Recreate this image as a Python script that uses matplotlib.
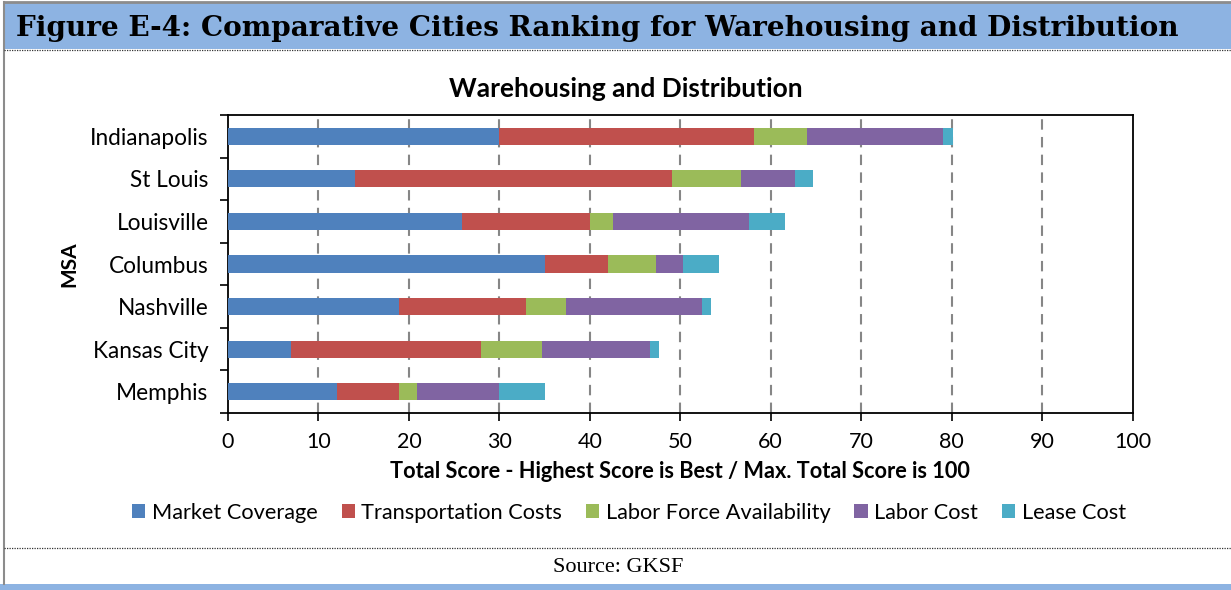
"""Comparative cities ranking for warehousing and distribution (stacked bars)."""

import matplotlib.pyplot as plt
from matplotlib.lines import Line2D
from matplotlib.patches import Patch, Rectangle

cities = ["Indianapolis", "St Louis", "Louisville", "Columbus",
          "Nashville", "Kansas City", "Memphis"]
market_coverage = [30.0, 14.0, 25.9, 35.1, 18.9, 7.0, 12.0]
transportation_costs = [28.1, 35.1, 14.1, 6.9, 14.0, 21.0, 6.9]
labor_force = [5.9, 7.6, 2.6, 5.3, 4.5, 6.7, 2.0]
labor_cost = [15.0, 6.0, 15.0, 3.0, 15.0, 12.0, 9.1]
lease_cost = [1.1, 2.0, 4.0, 4.0, 1.0, 1.0, 5.0]

series_names = ["Market Coverage", "Transportation Costs", "Labor Force Availability",
                "Labor Cost", "Lease Cost"]
series_colors = ["#4F81BD", "#C0504D", "#9BBB59", "#8064A2", "#4BACC6"]
x_ticks = [0, 10, 20, 30, 40, 50, 60, 70, 80, 90, 100]

W, H = 1231, 590
BAND = "#8DB3E2"
SANS = ["Lato", "DejaVu Sans"]


def fx(px):
    return px / W


def fy(py):
    return 1 - py / H


fig = plt.figure(figsize=(W / 100, H / 100), dpi=100)

# header band, frame and footer
fig.patches.append(Rectangle((fx(4), fy(49)), 1 - fx(4), fy(3) - fy(49),
                             transform=fig.transFigure, facecolor=BAND, edgecolor="none"))
fig.patches.append(Rectangle((0, 0), 1, fy(584), transform=fig.transFigure,
                             facecolor=BAND, edgecolor="none"))
fig.lines.append(Line2D([fx(4), 1], [fy(2), fy(2)], transform=fig.transFigure,
                        color="#8C8C8C", lw=2))
fig.lines.append(Line2D([fx(4), fx(4)], [fy(2), fy(584)], transform=fig.transFigure,
                        color="#8C8C8C", lw=1.5))
for y in (50, 548):
    fig.lines.append(Line2D([fx(4), 1], [fy(y), fy(y)], transform=fig.transFigure,
                            color="#333333", lw=0.9, linestyle=(0, (1, 1))))

fig.text(fx(597), fy(28), "Figure E-4: Comparative Cities Ranking for Warehousing and Distribution",
         ha="center", va="center", fontsize=20.1, fontweight="bold", family="DejaVu Serif")
fig.text(fx(618), fy(568), "Source: GKSF", ha="center", va="center",
         fontsize=16, family="Liberation Serif")

ax = fig.add_axes([fx(228), fy(413), fx(1132.5) - fx(228), fy(115) - fy(413)])

pos = list(range(len(cities)))
left = [0.0] * len(cities)
for vals, name, color in zip([market_coverage, transportation_costs, labor_force,
                              labor_cost, lease_cost], series_names, series_colors):
    ax.barh(pos, vals, left=left, height=0.4, color=color, label=name, zorder=3)
    left = [a + b for a, b in zip(left, vals)]

ax.set_xlim(0, 100)
ax.set_ylim(len(cities) - 0.5, -0.5)
ax.set_xticks(x_ticks)
ax.set_xticklabels([str(t) for t in x_ticks], family=SANS, fontsize=15.5)
ax.set_yticks([i - 0.5 for i in range(len(cities) + 1)])
ax.set_yticklabels([])
ax.set_yticks(pos, minor=True)
ax.set_yticklabels(cities, minor=True, family=SANS, fontsize=16.3)
ax.tick_params(axis="y", which="major", length=6, width=1.2, direction="out")
ax.tick_params(axis="y", which="minor", length=0, pad=14)
ax.tick_params(axis="x", length=6, width=1.2, direction="out", pad=8)

for t in x_ticks[1:-1]:
    ax.axvline(t, color="#868686", lw=1.5, linestyle=(0, (5, 3.5)), zorder=1)

for side in ax.spines.values():
    side.set_linewidth(1.3)

fig.text(fx(626), fy(89), "Warehousing and Distribution", ha="center", va="center",
         family=SANS, fontsize=19, fontweight="bold")
ax.set_xlabel("Total Score - Highest Score is Best / Max. Total Score is 100",
              family=SANS, fontsize=15.7, fontweight="bold", labelpad=6)
ax.set_ylabel("MSA", family=SANS, fontsize=15, fontweight="bold", labelpad=8)

handles = [Patch(facecolor=c) for c in series_colors]
fig.legend(handles, series_names, loc="center", bbox_to_anchor=(fx(629), fy(513)),
           ncol=5, frameon=False, prop={"family": SANS, "size": 15.7},
           handlelength=0.6, handleheight=0.6, handletextpad=0.3, columnspacing=1.1)

fig.savefig("out.png", dpi=100)
